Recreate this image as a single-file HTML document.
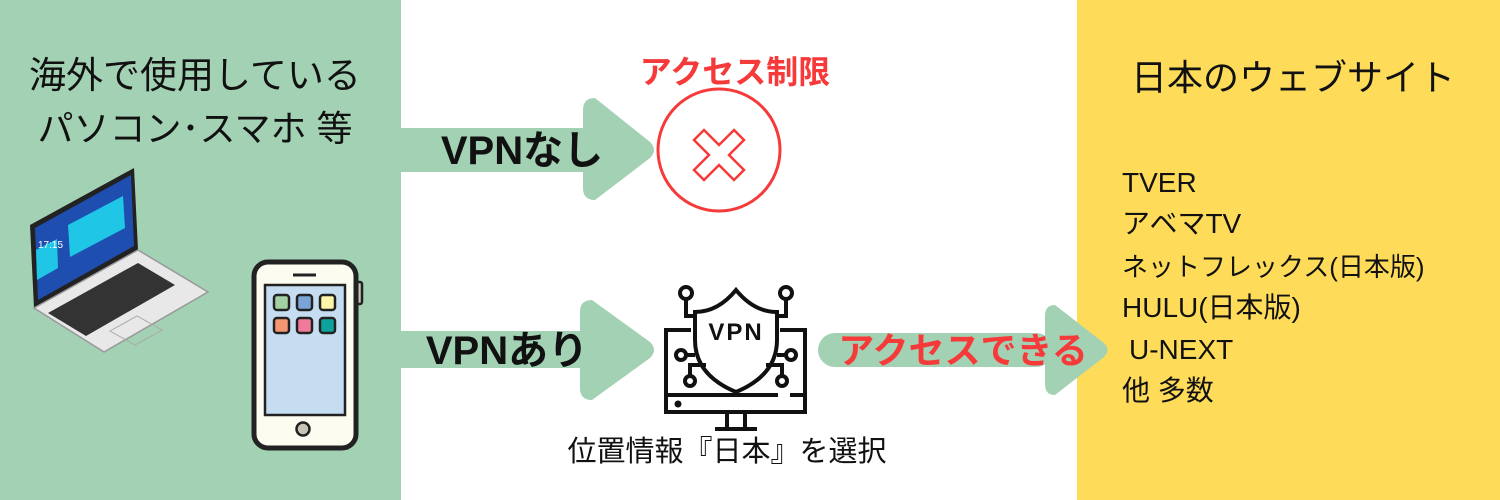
<!DOCTYPE html>
<html><head><meta charset="utf-8"><style>
html,body{margin:0;padding:0;background:#fff}
svg{display:block}
text{font-family:"Liberation Sans","Noto Sans CJK JP",sans-serif}
</style></head><body>
<svg width="1500" height="500" viewBox="0 0 1500 500" xmlns="http://www.w3.org/2000/svg">
<rect x="0" y="0" width="1500" height="500" fill="#fff"/>
<rect x="0" y="0" width="401" height="500" fill="#a3d1b4"/>
<rect x="1077" y="0" width="423" height="500" fill="#fedc5a"/>

<rect x="400" y="128" width="190" height="44" fill="#a3d1b4"/>
<path d="M595 98 Q583 98 583 110 L583 188 Q583 200 595 200 L650 158 Q658 150 650 142 Z" fill="#a3d1b4"/>
<rect x="400" y="331" width="190" height="37" fill="#a3d1b4"/>
<path d="M592 300 Q580 300 580 312 L580 388 Q580 400 592 400 L650 358 Q658 350 650 342 Z" fill="#a3d1b4"/>
<rect x="818" y="333" width="235" height="34" rx="17" fill="#a3d1b4"/>
<path d="M1055 305 Q1045 305 1045 316 L1045 384 Q1045 395 1055 395 L1104 357 Q1111 350 1104 343 Z" fill="#a3d1b4"/>

<text x="195" y="88" font-size="37" text-anchor="middle" fill="#111">海外で使用している</text>
<text x="195" y="141" font-size="36" text-anchor="middle" fill="#111">パソコン･スマホ 等</text>
<text x="522" y="164" font-size="40" font-weight="bold" text-anchor="middle" fill="#111">VPNなし</text>
<text x="507" y="364" font-size="40" font-weight="bold" text-anchor="middle" fill="#111">VPNあり</text>

<text x="735" y="83" font-size="32" font-weight="bold" text-anchor="middle" fill="#f63a3a">アクセス制限</text>
<circle cx="719" cy="150" r="61" fill="#fff" stroke="#f63a3a" stroke-width="3"/>
<path d="M704 130 L719 145 L734 130 L744 140 L729 155 L744 170 L734 180 L719 165 L704 180 L694 170 L709 155 L694 140 Z" fill="none" stroke="#f63a3a" stroke-width="2.5"/>

<text x="963" y="363" font-size="36" font-weight="bold" text-anchor="middle" fill="#f63a3a">アクセスできる</text>

<g fill="none" stroke="#111" stroke-width="4">
<path d="M691 330 L666 330 L666 412 L805 412 L805 330 L780 330"/>
<line x1="666" y1="395" x2="778" y2="395"/>
<line x1="790" y1="395" x2="805" y2="395"/>
<circle cx="678" cy="404" r="1.5" fill="#111"/>
<line x1="727" y1="412" x2="727" y2="428"/>
<line x1="745" y1="412" x2="745" y2="428"/>
<line x1="715" y1="429" x2="757" y2="429"/>
<path d="M736 290 Q718 312 695 312 L695 340 Q695 375 736 392 Q777 375 777 340 L777 312 Q754 312 736 290 Z"/>
<path d="M694 316 L686 316 L686 300"/><circle cx="686" cy="293" r="6"/>
<path d="M778 316 L786 316 L786 300"/><circle cx="786" cy="293" r="6"/>
<circle cx="681" cy="355" r="5"/><line x1="686" y1="355" x2="695" y2="355"/>
<circle cx="791" cy="355" r="5"/><line x1="786" y1="355" x2="777" y2="355"/>
<path d="M706 365 L690 365 L690 375"/><circle cx="690" cy="381" r="5"/>
<path d="M766 365 L782 365 L782 375"/><circle cx="782" cy="381" r="5"/>
</g>
<text x="736" y="340" font-size="24" font-weight="bold" text-anchor="middle" fill="#111" letter-spacing="2">VPN</text>
<text x="727" y="461" font-size="29" text-anchor="middle" fill="#111">位置情報『日本』を選択</text>

<g>
<path d="M30 225 L134 168 L138 250 L34 308 Z" fill="#222"/>
<path d="M35 228 L131 175 L134 246 L38 300 Z" fill="#1e4fb0"/>
<path d="M68 225 L123 196 L125 228 L70 257 Z" fill="#1fc6e6"/>
<path d="M36 250 L57 239 L58 268 L37 280 Z" fill="#1fc6e6"/>
<text x="38" y="248" font-size="10" fill="#fff">17:15</text>
<path d="M34 308 L138 250 L208 292 L104 352 Z" fill="#e8e8e8" stroke="#999" stroke-width="1.5"/>
<path d="M48 313 L138 263 L175 285 L86 336 Z" fill="#333"/>
<path d="M110 331 L137 316 L162 330 L135 345 Z" fill="none" stroke="#aaa" stroke-width="1"/>
</g>
<g>
<rect x="355" y="282" width="7" height="22" rx="2" fill="#c8c5b6" stroke="#222" stroke-width="2.5"/>
<rect x="254" y="262" width="102" height="186" rx="14" fill="#fdfcf0" stroke="#222" stroke-width="5"/>
<line x1="293" y1="275" x2="316" y2="275" stroke="#222" stroke-width="3"/>
<rect x="265" y="285" width="80" height="130" fill="#c6ddf1" stroke="#222" stroke-width="2.5"/>
<g stroke="#222" stroke-width="2.5">
<rect x="274" y="295" width="15" height="15" rx="3" fill="#a3d1a4"/>
<rect x="297" y="295" width="15" height="15" rx="3" fill="#7aa4d6"/>
<rect x="320" y="295" width="15" height="15" rx="3" fill="#fdf5a8"/>
<rect x="274" y="318" width="15" height="15" rx="3" fill="#f49672"/>
<rect x="297" y="318" width="15" height="15" rx="3" fill="#f07a99"/>
<rect x="320" y="318" width="15" height="15" rx="3" fill="#0fa19c"/>
</g>
<circle cx="303" cy="429" r="6.5" fill="#c8c5b6" stroke="#222" stroke-width="2.5"/>
</g>

<text x="1293" y="90" font-size="36" text-anchor="middle" fill="#111">日本のウェブサイト</text>
<g font-size="28" fill="#111">
<text x="1122" y="192">TVER</text>
<text x="1122" y="233">アベマTV</text>
<text x="1122" y="276" font-size="26">ネットフレックス(日本版)</text>
<text x="1122" y="317">HULU(日本版)</text>
<text x="1129" y="359">U-NEXT</text>
<text x="1122" y="400">他 多数</text>
</g>
</svg>
</body></html>
